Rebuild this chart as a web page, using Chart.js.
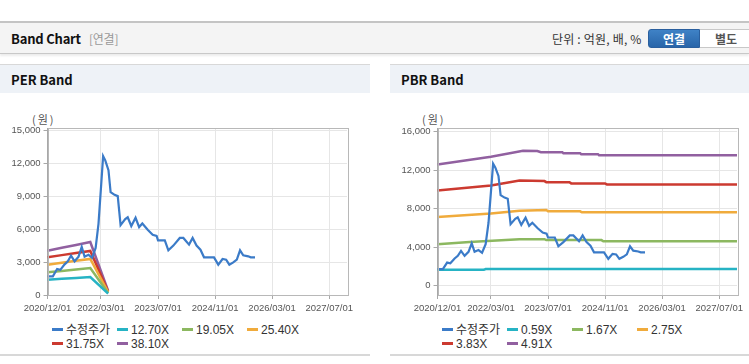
<!DOCTYPE html>
<html>
<head>
<meta charset="utf-8">
<script src="https://cdn.jsdelivr.net/npm/chart.js@4.4.1/dist/chart.umd.min.js"></script>
<style>
  body { margin: 0; background: #fff; width: 749px; height: 364px; overflow: hidden; position: relative;
         font-family: "Noto Sans CJK KR", "Liberation Sans", sans-serif; }
  .abs { position: absolute; }
  #topbar { left: 0; top: 21px; width: 749px; height: 30px; background: #f4f4f4;
            border-top: 2px solid #c4c4c4; border-bottom: 1px solid #c8c8c8; box-shadow: 0 2px 2px rgba(0,0,0,0.08); }
  #title { left: 11px; top: 29px; font-size: 13px; font-weight: bold; color: #111; letter-spacing: -0.2px; }
  #title span { font-weight: normal; color: #999; font-size: 12px; margin-left: 8px; }
  #unit { left: 552px; top: 30px; font-size: 12px; color: #333; letter-spacing: 0.2px; }
  .btn { top: 29px; height: 17px; font-size: 12px; font-weight: bold; text-align: center; line-height: 17px; }
  #btn1 { left: 648px; width: 50px; color: #fff; background: linear-gradient(#3f82c6, #2865a9);
          border: 1px solid #2a5f9e; border-radius: 3px 0 0 3px; }
  #btn2 { left: 700px; width: 52px; color: #555; background: #fff; border: 1px solid #c8c8c8; border-left: none; }
  .phead { top: 64px; height: 28px; background: #eef2f7; border-top: 1px solid #d8d8d8; }
  .phead b { position: absolute; left: 11px; top: 5px; font-size: 13px; color: #111; }
  .pbody { top: 93px; height: 261px; border-bottom: 2px solid #d8d8d8; background: #fff; }
  .unitlbl { top: 111px; font-size: 11px; color: #555; letter-spacing: 2px; }
  .legend { font-family: "Liberation Sans", "Noto Sans CJK KR", sans-serif; font-size: 12px; color: #333; }
  .legend div { position: absolute; white-space: nowrap; line-height: 14px; }
  .legend i { display: inline-block; width: 11px; height: 3px; vertical-align: middle; margin-right: 3px; margin-top: -2px; }
</style>
</head>
<body>
<div id="topbar" class="abs"></div>
<div id="title" class="abs">Band Chart<span>[연결]</span></div>
<div id="unit" class="abs">단위 : 억원, 배, %</div>
<div id="btn1" class="abs btn">연결</div>
<div id="btn2" class="abs btn">별도</div>

<div class="abs phead" style="left:0;width:370px"><b>PER Band</b></div>
<div class="abs pbody" style="left:0;width:370px"></div>
<div class="abs phead" style="left:390px;width:359px"><b>PBR Band</b></div>
<div class="abs pbody" style="left:390px;width:359px"></div>

<div class="abs unitlbl" style="left:32px">(원)</div>
<div class="abs unitlbl" style="left:422px">(원)</div>

<canvas id="per" class="abs" width="370" height="230" style="left:0;top:93px"></canvas>
<canvas id="pbr" class="abs" width="359" height="230" style="left:390px;top:93px"></canvas>

<div id="perLegend" class="abs legend" style="left:0;top:0"></div>
<div id="pbrLegend" class="abs legend" style="left:390px;top:0"></div>

<script>
// x axis is months since 2020/12
const xTickMonths = [0, 15, 31, 47, 63, 79];
const xTickLabels = ['2020/12/01', '2022/03/01', '2023/07/01', '2024/11/01', '2026/03/01', '2027/07/01'];
const perTicks = [0, 3000, 6000, 9000, 12000, 15000];
const pbrTicks = [0, 4000, 8000, 12000, 16000];

// 수정주가
const priceMonths = [0, 1.5, 2.7, 3.6, 4.8, 5.7, 6.6, 7.6, 8.7, 9.6, 10.4, 11.5, 12.5, 13.5, 14.3, 15, 15.6, 16.2, 17.1, 17.7,
  18.8, 19.7, 20.5, 21.8, 22.5, 23.5, 24.7, 25.7, 26.6, 28.1, 29.5, 30.6, 31, 32.9, 33.9, 35.3, 37.1, 38.1, 39.7, 40.7,
  41.8, 42.9, 43.9, 46.7, 47.9, 49.1, 50.1, 51, 52.1, 53.1, 54, 54.9, 56.3, 57, 58.2];
const priceValues = [1700, 1700, 2380, 2300, 2800, 3080, 3600, 3080, 3500, 4380, 3500, 3680, 3400, 4300, 6500, 9800, 12680, 12300, 11400, 9400,
  9150, 9030, 6380, 6930, 7100, 6300, 7050, 6200, 6530, 5960, 5500, 5400, 4990, 4990, 4080, 4510, 5210, 5210, 4600, 5210,
  4510, 4140, 3440, 3440, 2770, 3290, 3230, 2770, 2980, 3230, 4080, 3620, 3530, 3440, 3440];

// PER bands
const perBandMonths = [0, 4, 8, 12, 17];
const per1270 = [1400, 1480, 1560, 1640, 130];
const per1905 = [2070, 2200, 2330, 2460, 190];
const per2540 = [2770, 2940, 3120, 3290, 260];
const per3175 = [3440, 3640, 3830, 4020, 320];
const per3810 = [4050, 4310, 4570, 4840, 390];

// PBR bands
const pbr059Months = [0, 13, 13.5, 84];
const pbr059 = [1620, 1620, 1700, 1700];
const pbr167Months = [0, 9, 23, 30, 30.5, 46, 46.5, 84];
const pbr167 = [4290, 4530, 4810, 4810, 4720, 4720, 4600, 4600];
const pbr275Months = [0, 15, 23, 30.5, 31, 40, 40.5, 84];
const pbr275 = [7130, 7480, 7780, 7850, 7720, 7720, 7616, 7616];
const pbr383Months = [0, 15, 23, 30, 30.5, 37, 37.5, 47, 47.5, 84];
const pbr383 = [9900, 10420, 10940, 10870, 10760, 10760, 10630, 10630, 10525, 10525];
const pbr491Months = [0, 15, 24, 28, 29, 35, 35.3, 40, 40.3, 45, 45.3, 84];
const pbr491 = [12600, 13400, 14030, 14000, 13880, 13880, 13780, 13780, 13675, 13675, 13570, 13570];

const colors = ['#3b7bc8', '#26b3c4', '#8cb860', '#f0ab3c', '#cc3a30', '#9160a0'];

const pts = (ms, vs) => ms.map((m, i) => ({ x: m, y: vs[i] }));

function line(label, data, color, width) {
  return { label, data, borderColor: color, backgroundColor: color, borderWidth: width,
           pointRadius: 0, tension: 0, fill: false };
}

// box round the plot area
const boxPlugin = {
  id: 'box',
  afterDraw(chart) {
    const a = chart.chartArea, ctx = chart.ctx;
    ctx.save();
    ctx.strokeStyle = '#b8b8b8';
    ctx.lineWidth = 1;
    ctx.strokeRect(Math.round(a.left) + 0.5, Math.round(a.top) + 0.5,
                   Math.round(a.right - a.left), Math.round(a.bottom - a.top));
    ctx.restore();
  }
};

Chart.defaults.font.family = '"Liberation Sans", Arial, sans-serif';
Chart.defaults.font.size = 9.5;
Chart.defaults.color = '#555';

function makeChart(id, datasets, yMin, yMax, yTicks, padRight) {
  return new Chart(document.getElementById(id), {
    type: 'line',
    data: { datasets },
    plugins: [boxPlugin],
    options: {
      responsive: false,
      animation: false,
      layout: { padding: { left: 0, top: 35, right: padRight, bottom: 0 } },
      plugins: { legend: { display: false }, tooltip: { enabled: false } },
      scales: {
        x: {
          type: 'linear', min: 0, max: 84,
          afterBuildTicks: s => { s.ticks = xTickMonths.map(v => ({ value: v })); },
          afterFit: s => { s.height = 28; },
          ticks: { callback: v => xTickLabels[xTickMonths.indexOf(v)], maxRotation: 0, autoSkip: false, padding: 4 },
          grid: { color: '#e6e6e6', tickColor: '#a8a8a8', tickLength: 4 },
          border: { color: '#a8a8a8' }
        },
        y: {
          min: yMin, max: yMax,
          afterBuildTicks: s => { s.ticks = yTicks.map(v => ({ value: v })); },
          afterFit: s => { s.width = 47.5; },
          ticks: { callback: v => v.toLocaleString('en-US'), padding: 3 },
          grid: { color: '#e6e6e6', tickColor: '#a8a8a8', tickLength: 4 },
          border: { color: '#a8a8a8' }
        }
      }
    }
  });
}

const price = pts(priceMonths, priceValues);

makeChart('per', [
  line('수정주가', price, colors[0], 2.2),
  line('12.70X', pts(perBandMonths, per1270), colors[1], 2.5),
  line('19.05X', pts(perBandMonths, per1905), colors[2], 2.5),
  line('25.40X', pts(perBandMonths, per2540), colors[3], 2.5),
  line('31.75X', pts(perBandMonths, per3175), colors[4], 2.5),
  line('38.10X', pts(perBandMonths, per3810), colors[5], 2.5)
], 0, 15250, perTicks, 23);

makeChart('pbr', [
  line('수정주가', price, colors[0], 2.2),
  line('0.59X', pts(pbr059Months, pbr059), colors[1], 2.5),
  line('1.67X', pts(pbr167Months, pbr167), colors[2], 2.5),
  line('2.75X', pts(pbr275Months, pbr275), colors[3], 2.5),
  line('3.83X', pts(pbr383Months, pbr383), colors[4], 2.5),
  line('4.91X', pts(pbr491Months, pbr491), colors[5], 2.5)
], -1000, 16400, pbrTicks, 12);

// legends: 4 columns, 2 rows
function buildLegend(id, labels) {
  const el = document.getElementById(id);
  labels.forEach((t, i) => {
    const d = document.createElement('div');
    d.style.left = (52 + (i % 4) * 65) + 'px';
    d.style.top = (i < 4 ? 323 : 337) + 'px';
    d.innerHTML = '<i style="background:' + colors[i] + '"></i>' + t;
    el.appendChild(d);
  });
}
buildLegend('perLegend', ['수정주가', '12.70X', '19.05X', '25.40X', '31.75X', '38.10X']);
buildLegend('pbrLegend', ['수정주가', '0.59X', '1.67X', '2.75X', '3.83X', '4.91X']);
</script>
</body>
</html>
